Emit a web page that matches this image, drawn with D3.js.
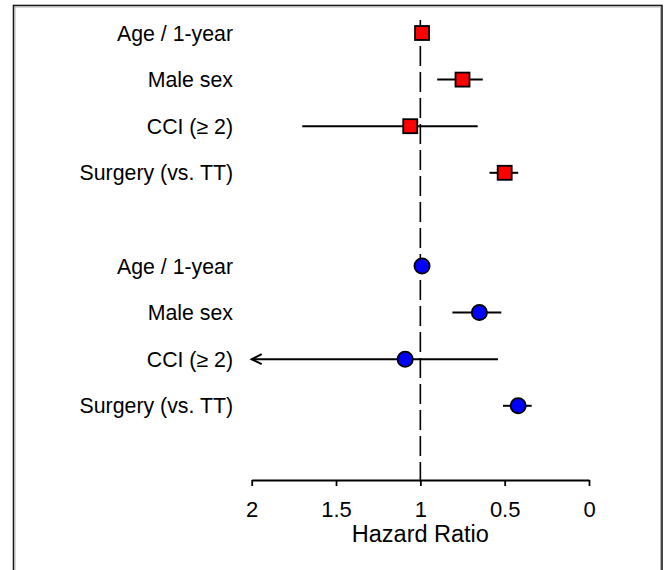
<!DOCTYPE html>
<html>
<head>
<meta charset="utf-8">
<script src="https://cdn.jsdelivr.net/npm/d3@7"></script>
<style>
  html, body { margin: 0; padding: 0; background: #fff; }
  svg { display: block; font-family: Arial, "Liberation Sans", sans-serif; }
</style>
</head>
<body>
<svg id="chart" width="664" height="570"></svg>
<script>
// ---- data ----
const labels = ["Age / 1-year", "Male sex", "CCI (\u2265 2)", "Surgery (vs. TT)"];
const redHR    = [0.99, 0.75, 1.06, 0.50];
const redLow   = [0.98, 0.63, 0.66, 0.42];
const redHigh  = [1.00, 0.90, 1.70, 0.59];
const blueHR   = [0.99, 0.65, 1.09, 0.42];
const blueLow  = [0.98, 0.52, 0.54, 0.34];
const blueHigh = [1.00, 0.81, 2.00, 0.51];
const blueTruncated = [false, false, true, false];
const tickValues = [2, 1.5, 1, 0.5, 0];
const axisTitle = "Hazard Ratio";
const refLine = 1;

// ---- layout ----
const svg = d3.select("#chart");
const x = d3.scaleLinear().domain([2, 0]).range([251.7, 589]);
const y = d3.scaleLinear().domain([0, 1]).range([33, 79.6]);
const axisY = 480;

// frame
svg.append("rect").attr("x", 13.5).attr("y", 5.5).attr("width", 648.5).attr("height", 580)
  .attr("fill", "none").attr("stroke", "#1a1a1a").attr("stroke-width", 1.6);
svg.append("rect").attr("x", 15).attr("y", 7).attr("width", 645.5).attr("height", 580)
  .attr("fill", "none").attr("stroke", "#b0b0b0").attr("stroke-width", 1);

// reference dashed line
svg.append("line")
  .attr("x1", x(refLine)).attr("x2", x(refLine))
  .attr("y1", 20).attr("y2", axisY)
  .attr("stroke", "#000").attr("stroke-width", 1.6)
  .attr("stroke-dasharray", "20,6");

// axis
const axis = d3.axisBottom(x).tickValues(tickValues).tickSize(6).tickSizeOuter(0)
  .tickFormat(d3.format("~g"));
const gAx = svg.append("g").attr("transform", `translate(0,${axisY})`).call(axis);
gAx.select(".domain").attr("stroke", "#000").attr("stroke-width", 1.8);
gAx.selectAll(".tick line").attr("stroke", "#000").attr("stroke-width", 1.8);
gAx.selectAll(".tick text").attr("font-size", 22).attr("fill", "#000")
  .attr("font-family", "Arial, 'Liberation Sans', sans-serif").attr("y", 21).attr("dy", "0.71em");

svg.append("text").attr("x", x(refLine)).attr("y", 542).attr("text-anchor", "middle")
  .attr("font-size", 23.5).attr("fill", "#000").text(axisTitle);

// groups
const groups = [
  { offset: 0, hr: redHR, lo: redLow, hi: redHigh, trunc: [false,false,false,false], shape: "square", color: "#ff0000" },
  { offset: 5, hr: blueHR, lo: blueLow, hi: blueHigh, trunc: blueTruncated, shape: "circle", color: "#0000ff" }
];

groups.forEach(g => {
  labels.forEach((lab, i) => {
    const yy = y(g.offset + i);
    svg.append("text").attr("x", 233).attr("y", yy).attr("dy", "0.36em")
      .attr("text-anchor", "end").attr("font-size", 21.3).attr("fill", "#000").text(lab);
    // CI line
    svg.append("line").attr("x1", x(g.hi[i])).attr("x2", x(g.lo[i]))
      .attr("y1", yy).attr("y2", yy).attr("stroke", "#000").attr("stroke-width", 2);
    if (g.trunc[i]) {
      const ax = x(g.hi[i]);
      svg.append("path")
        .attr("d", `M${ax + 10},${yy - 5} L${ax},${yy} L${ax + 10},${yy + 5}`)
        .attr("fill", "none").attr("stroke", "#000").attr("stroke-width", 2);
    }
    const cx = x(g.hr[i]);
    if (g.shape === "square") {
      svg.append("rect").attr("x", cx - 7).attr("y", yy - 7).attr("width", 14).attr("height", 14)
        .attr("fill", g.color).attr("stroke", "#000").attr("stroke-width", 1.8);
    } else {
      svg.append("circle").attr("cx", cx).attr("cy", yy).attr("r", 7.6)
        .attr("fill", g.color).attr("stroke", "#000").attr("stroke-width", 1.8);
    }
  });
});
</script>
</body>
</html>
